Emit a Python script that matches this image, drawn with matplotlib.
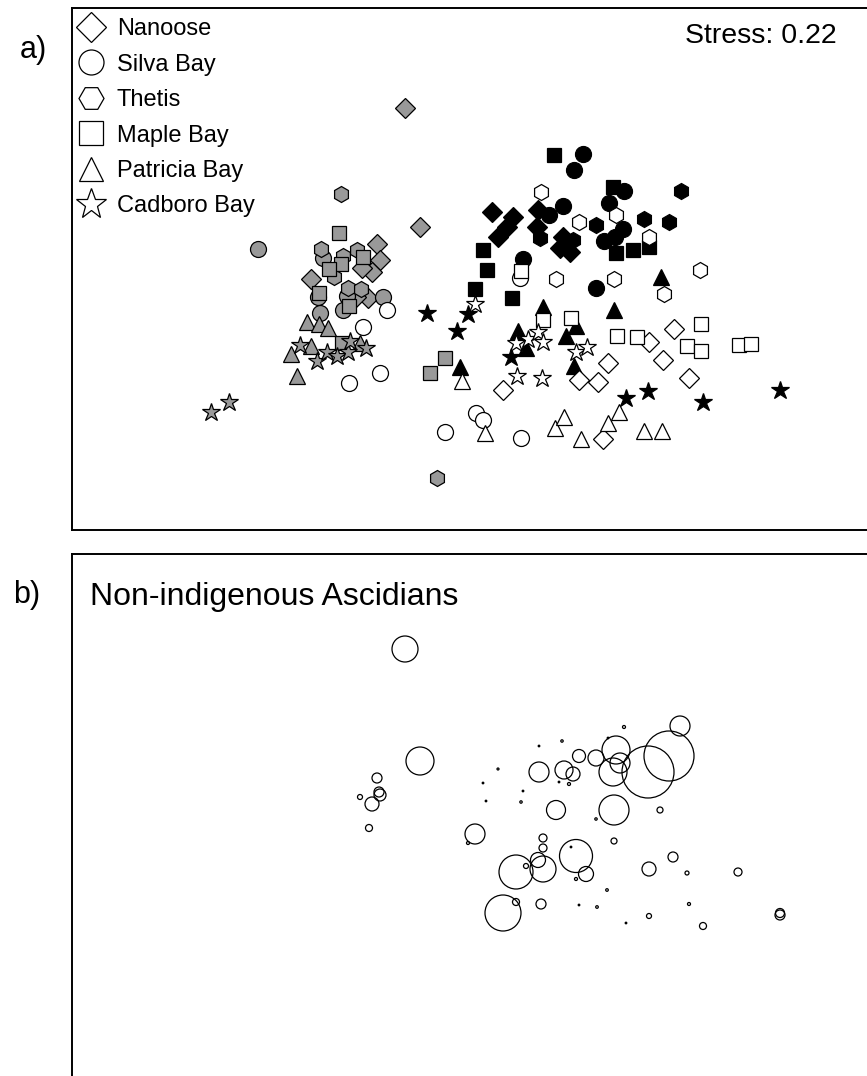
import matplotlib
matplotlib.use("Agg")
import matplotlib.pyplot as plt
from matplotlib.lines import Line2D

plt.rcParams['font.family'] = ['Liberation Sans', 'DejaVu Sans']

# nMDS ordination of the fouling communities, one list set per site.
# shade codes: g = grey, k = black, w = white (season groups)
nanoose_x = [-0.65, -0.50, -0.93, -0.90, -0.98, -1.08, -1.59, -1.02, -1.14,
             0.22, 0.43, 0.37, 0.28, 0.68, 0.67, 0.93, 1.00, 0.90,
             0.33, 1.09, 1.28, 1.38, 2.04, 1.79, 1.93, 2.19, 1.33]
nanoose_y = [1.62, 0.43, 0.26, 0.10, -0.02, 0.02, -0.09, -0.28, -0.27,
             0.58, 0.53, 0.43, 0.33, 0.60, 0.43, 0.33, 0.18, 0.22,
             -1.20, -1.10, -1.12, -0.93, -0.59, -0.72, -0.90, -1.08, -1.69]
nanoose_shade = "gggggggggkkkkkkkkkwwwwwwwww"

silva_x = [-2.12, -1.47, -1.52, -1.50, -1.27, -0.87, -1.23,
           1.13, 1.04, 1.54, 0.93, 0.79, 1.39, 1.53, 1.34, 1.45, 0.53, 1.26,
           0.50, -1.07, -0.83, -0.90, -1.21, 0.06, 0.13, -0.25, 0.51]
silva_y = [0.21, 0.12, -0.27, -0.43, -0.40, -0.27, -0.26,
           1.16, 1.00, 0.79, 0.64, 0.55, 0.67, 0.41, 0.29, 0.33, 0.11, -0.18,
           -0.08, -0.57, -0.40, -1.03, -1.13, -1.43, -1.50, -1.62, -1.68]
silva_shade = "gggggggkkkkkkkkkkkwwwwwwwww"

thetis_x = [-1.29, -1.49, -1.27, -1.13, -1.36, -1.22, -1.09, -0.33,
            2.11, 1.26, 1.74, 1.99, 0.70, 1.03,
            0.71, 1.09, 1.46, 1.79, 0.86, 1.44, 2.30, 1.94]
thetis_y = [0.76, 0.21, 0.14, 0.20, -0.07, -0.18, -0.19, -2.08,
            0.79, 0.45, 0.51, 0.48, 0.32, 0.30,
            0.78, 0.48, 0.55, 0.33, -0.09, -0.09, 0.00, -0.24]
thetis_shade = "ggggggggkkkkkkwwwwwwww"

maple_x = [-1.31, -1.07, -1.29, -1.41, -1.51, -1.21, -1.28, -0.25, -0.40,
           0.84, 1.43, 0.13, 0.17, 0.05, 0.42, 1.46, 1.63, 1.79, 0.98,
           0.51, 0.73, 1.01, 1.47, 1.67, 2.31, 2.17, 2.31, 2.69, 2.81]
maple_y = [0.37, 0.13, 0.06, 0.01, -0.23, -0.36, -0.73, -0.88, -1.03,
           1.15, 0.83, 0.20, 0.00, -0.19, -0.28, 0.17, 0.20, 0.23, 0.27,
           -0.01, -0.50, -0.48, -0.66, -0.67, -0.54, -0.76, -0.81, -0.75, -0.74]
maple_shade = "gggggggggkkkkkkkkkkwwwwwwwwww"

patricia_x = [-1.63, -1.51, -1.42, -1.79, -1.59, -1.10, -1.73,
              1.91, 0.73, 0.48, 1.06, 0.96, 0.56, 1.04, -0.10, 1.44,
              -0.08, 0.15, 0.85, 0.94, 1.11, 1.38, 1.49, 1.74, 1.92]
patricia_y = [-0.52, -0.54, -0.58, -0.84, -0.76, -0.73, -1.06,
              -0.07, -0.37, -0.61, -0.56, -0.66, -0.78, -0.96, -0.97, -0.40,
              -1.11, -1.63, -1.58, -1.47, -1.69, -1.53, -1.42, -1.61, -1.61]
patricia_shade = "gggggggkkkkkkkkkwwwwwwwww"

cadboro_x = [-2.59, -2.41, -1.70, -1.53, -1.43, -1.33, -1.22, -1.20, -1.04,
             -0.43, -0.13, -0.02, 0.41, 1.56, 1.78, 2.33, 3.10,
             0.05, 0.46, 0.58, 0.68, 0.73, 0.47, 0.72, 1.06, 1.17]
cadboro_y = [-1.42, -1.32, -0.75, -0.91, -0.82, -0.86, -0.82, -0.71, -0.78,
             -0.43, -0.61, -0.44, -0.87, -1.28, -1.21, -1.32, -1.20,
             -0.34, -0.73, -0.69, -0.62, -0.72, -1.06, -1.08, -0.82, -0.77]
cadboro_shade = "gggggggggkkkkkkkkwwwwwwwww"

stress = 0.22

# bubble overlay: non-indigenous ascidian abundance per sample
asc_x = [-0.65, -0.50, -0.93, -0.90, -0.91, -0.98, -1.10, -1.01, 0.05, -0.02,
         0.28, 0.13, 0.16, 0.53, 0.51, 0.69, 0.92, 1.54, 0.89, 0.99,
         1.26, 1.38, 0.69, 0.94, 1.03, 1.09, 1.26, 1.46, 1.43, 1.50,
         1.78, 1.99, 2.10, 0.86, 1.44, 1.90, 0.73, 0.73, 0.68, 0.73,
         0.46, 0.56, 1.06, 1.01, 1.16, 1.06, 1.37, 1.27, 1.09, 1.56,
         0.33, 0.46, 0.71, 1.44, 1.79, 2.03, 2.17, 2.68, 2.19, 1.79,
         2.33, 3.10, 3.10]
asc_y = [1.67, 0.55, 0.38, 0.21, 0.24, 0.12, 0.19, -0.12, -0.18, -0.27,
         0.47, 0.33, 0.15, 0.25, 0.14, 0.70, 0.75, 0.89, 0.34, 0.32,
         -0.03, 0.78, 0.44, 0.46, 0.42, 0.60, 0.58, 0.66, 0.44, 0.53,
         0.44, 0.60, 0.90, 0.06, 0.06, 0.06, -0.22, -0.32, -0.44, -0.53,
         -0.56, -0.50, -0.40, -0.31, -0.58, -0.63, -0.74, -0.91, -0.89, -1.07,
         -0.97, -0.86, -0.88, -0.25, -0.53, -0.41, -0.57, -0.56, -0.88, -1.00,
         -1.10, -0.99, -0.97]
asc_abund = [13, 14, 5, 6, 5, 7, 2.5, 3.5, 10, 1.5,
             1, 0.8, 0.8, 0.8, 1.2, 0.8, 1.2, 1.5, 0.8, 1.5,
             1.2, 0.8, 10, 9, 7, 6.5, 8, 14, 14, 10,
             26, 25, 10, 9.5, 15, 3, 4, 4, 7.5, 13,
             17, 2.5, 16.5, 0.8, 7.5, 1.5, 1.3, 1.3, 0.8, 0.8,
             18, 3.5, 5, 3, 7, 5, 2, 4, 1.5, 2.5,
             3.5, 5, 4.5]

sites = ["Nanoose", "Silva Bay", "Thetis", "Maple Bay", "Patricia Bay", "Cadboro Bay"]
site_x = [nanoose_x, silva_x, thetis_x, maple_x, patricia_x, cadboro_x]
site_y = [nanoose_y, silva_y, thetis_y, maple_y, patricia_y, cadboro_y]
site_shade = [nanoose_shade, silva_shade, thetis_shade, maple_shade, patricia_shade, cadboro_shade]
markers = ["D", "o", "h", "s", "^", "*"]
msizes = [10, 11.5, 11.5, 10.5, 11.5, 13.5]
legend_ms = [15, 18, 18, 17, 17, 23]
fills = {"g": "#999999", "k": "black", "w": "white"}

fig = plt.figure(figsize=(8.67, 10.76), dpi=100)
W, H = 867.0, 1076.0
ax_a = fig.add_axes([72 / W, 1 - 530 / H, 803 / W, 522 / H])
ax_b = fig.add_axes([72 / W, 1 - 1090 / H, 803 / W, 536 / H])

for ax in (ax_a, ax_b):
    ax.set_xticks([])
    ax.set_yticks([])
    for sp in ax.spines.values():
        sp.set_linewidth(1.4)
    ax.set_xlim(-3.98, 4.05)

ax_a.set_ylim(-2.60, 2.62)
ax_b.set_ylim(-2.74, 2.62)

# panel a: grey first, then black, then white on top
for code in "gkw":
    for i in range(len(sites)):
        xs = [x for x, s in zip(site_x[i], site_shade[i]) if s == code]
        ys = [y for y, s in zip(site_y[i], site_shade[i]) if s == code]
        ax_a.plot(xs, ys, ls="none", marker=markers[i], ms=msizes[i],
                  mfc=fills[code], mec="black", mew=0.9)

handles = [Line2D([], [], ls="none", marker=("H" if m == "h" else m), ms=s,
                  mfc="white", mec="black", mew=0.9)
           for m, s in zip(markers, legend_ms)]
ax_a.legend(handles, sites, loc="upper left", bbox_to_anchor=(0.0, 0.985),
            frameon=False, fontsize=17, borderaxespad=0.0, borderpad=0.1,
            handlelength=1.4, handletextpad=0.4, labelspacing=0.57)

ax_a.text(0.952, 0.946, "Stress: %.2f" % stress, transform=ax_a.transAxes,
          ha="right", va="center", fontsize=20.5)

# panel b: bubble sizes proportional to abundance (radius in px)
sizes = [(2 * r * 0.72) ** 2 for r in asc_abund]
ax_b.scatter(asc_x, asc_y, s=sizes, facecolors="none", edgecolors="black",
             linewidths=0.9)
ax_b.text(0.022, 0.92, "Non-indigenous Ascidians", transform=ax_b.transAxes,
          ha="left", va="center", fontsize=23)

fig.text(20 / W, 1 - 50 / H, "a)", fontsize=22, ha="left", va="center")
fig.text(13 / W, 1 - 595 / H, "b)", fontsize=22, ha="left", va="center")

fig.savefig("out.png", dpi=100)
